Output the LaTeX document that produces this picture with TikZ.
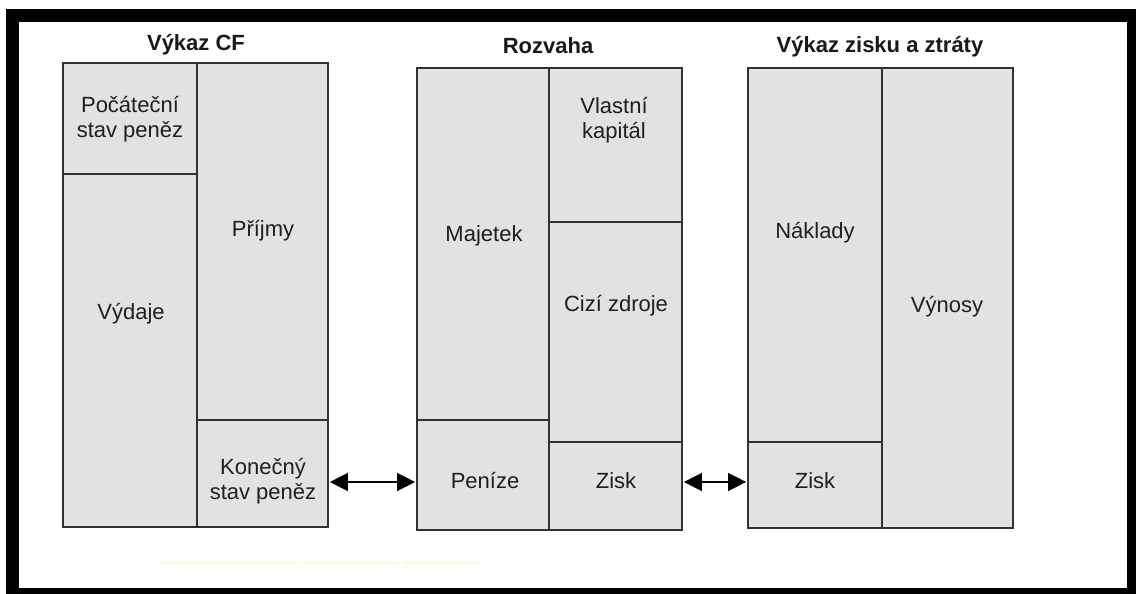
\documentclass[tikz,border=0pt]{standalone}
\usepackage{fontspec}
\setmainfont{Liberation Sans}
\usetikzlibrary{arrows.meta,fit}
\definecolor{cellfill}{RGB}{226,226,226}
\definecolor{cellline}{RGB}{50,50,50}
\definecolor{paleyellow}{RGB}{255,250,200}
\begin{document}
\begin{tikzpicture}[x=1pt,y=-1pt,
  cell/.style={draw=cellline, fill=cellfill, line width=1.7pt, inner sep=0pt},
  txt/.style={font=\fontsize{22}{25.5}\selectfont, align=center, text=black!88, inner sep=0pt},
  ttl/.style={font=\bfseries\fontsize{22}{25}\selectfont, text=black!90, inner sep=0pt},
  link/.style={line width=1.4pt, draw=black,
    {Triangle[length=18pt,width=18pt]}-{Triangle[length=18pt,width=18pt]}}]
\useasboundingbox (0,0) rectangle (1136,594);
% frame
\fill[white] (0,0) rectangle (1136,594);
\fill[black] (6,9) rectangle (1136,594);
\fill[white] (19,22) rectangle (1127,588);

% faint underline marks
\draw[paleyellow, line width=1.5pt] (158,563) -- (299,563);
\draw[paleyellow, line width=1.5pt] (303,563) -- (398,563);
\draw[paleyellow, line width=1.5pt] (404,563) -- (480,563);

% titles
\node[ttl] (t1) at (196,45) {Výkaz CF};
\node[ttl] (t2) at (548,46) {Rozvaha};
\node[ttl] (t3) at (880,47) {Výkaz zisku a ztráty};

% cash-flow statement
\node[cell, fit={(63,63)(197,174)}] (cfa) {};
\node[cell, fit={(63,174)(197,527)}] (cfb) {};
\node[cell, fit={(197,63)(328,420)}] (cfc) {};
\node[cell, fit={(197,420)(328,527)}] (cfd) {};
\node[txt] (la) at (130,119) {Počáteční\\stav peněz};
\node[txt] (lb) at (131,314) {Výdaje};
\node[txt] (lc) at (263,231) {Příjmy};
\node[txt] (ld) at (263,481) {Konečný\\stav peněz};

% balance sheet
\node[cell, fit={(417,68)(549,420)}] (ba) {};
\node[cell, fit={(417,420)(549,530)}] (bb) {};
\node[cell, fit={(549,68)(682,222)}] (bc) {};
\node[cell, fit={(549,222)(682,442)}] (bd) {};
\node[cell, fit={(549,442)(682,530)}] (be) {};
\node[txt] (ma) at (484,236) {Majetek};
\node[txt] (mb) at (485,481) {Peníze};
\node[txt] (mc) at (614,120) {Vlastní\\kapitál};
\node[txt] (md) at (616,306) {Cizí zdroje};
\node[txt] (me) at (616,481) {Zisk};

% income statement
\node[cell, fit={(748,68)(882,442)}] (pa) {};
\node[cell, fit={(748,442)(882,528)}] (pb) {};
\node[cell, fit={(882,68)(1013,528)}] (pc) {};
\node[txt] (ra) at (815,233) {Náklady};
\node[txt] (rb) at (815,481) {Zisk};
\node[txt] (rc) at (947,307) {Výnosy};

% links between the statements
\coordinate (ay) at (0,482);
\draw[link] ([xshift=1pt]cfd.east |- ay) -- ([xshift=-1pt]bb.west |- ay);
\draw[link] ([xshift=1pt]be.east |- ay) -- ([xshift=-1pt]pb.west |- ay);
\end{tikzpicture}
\end{document}
